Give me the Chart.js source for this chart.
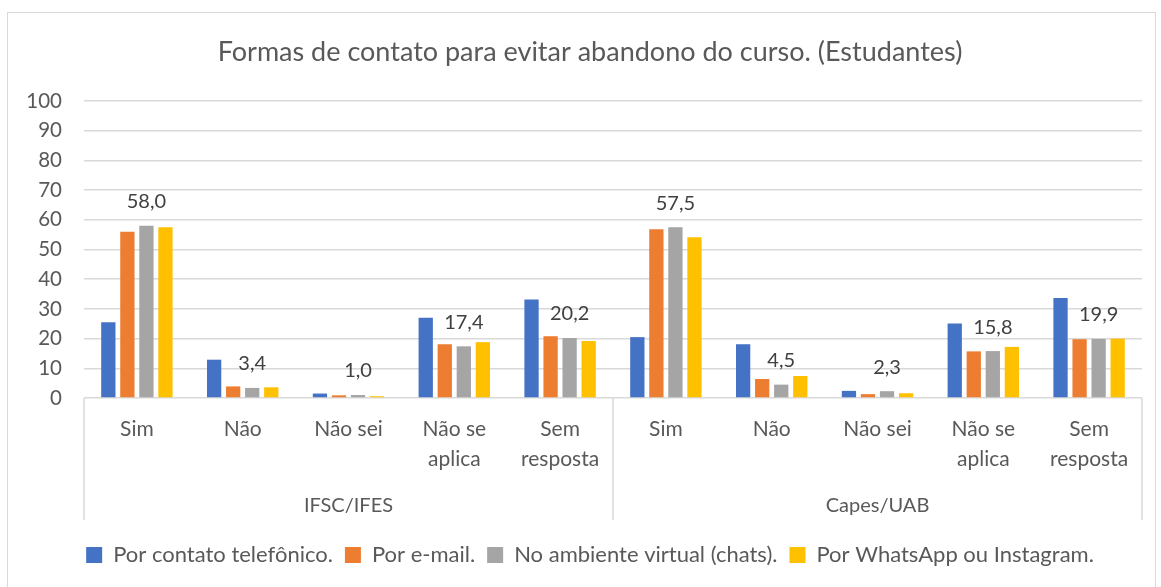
<!DOCTYPE html>
<html>
<head>
<meta charset="utf-8">
<script src="https://cdn.jsdelivr.net/npm/chart.js@4"></script>
<style>
  body { margin: 0; background: #fff; }
  #box { position: absolute; left: 7px; top: 12px; width: 1147px; height: 580px; border: 1px solid #d9d9d9; }
  #wrap { position: relative; width: 1147px; height: 574px; }
</style>
</head>
<body>
<div id="box"><div id="wrap"><canvas id="chart"></canvas></div></div>
<script>
// Données
const categories = [["Sim"], ["Não"], ["Não sei"], ["Não se", "aplica"], ["Sem", "resposta"],
                    ["Sim"], ["Não"], ["Não sei"], ["Não se", "aplica"], ["Sem", "resposta"]];
const groups = ["IFSC/IFES", "Capes/UAB"];
const telefone = [25.5, 12.9, 1.5, 27.0, 33.2, 20.5, 18.1, 2.4, 25.1, 33.7];
const email = [56.0, 3.9, 0.9, 18.1, 20.8, 56.8, 6.4, 1.3, 15.7, 19.8];
const ambiente = [58.0, 3.4, 1.0, 17.4, 20.2, 57.5, 4.5, 2.3, 15.8, 19.9];
const whatsapp = [57.5, 3.6, 0.6, 18.8, 19.2, 54.1, 7.4, 1.6, 17.2, 20.0];
const yTicks = [0, 10, 20, 30, 40, 50, 60, 70, 80, 90, 100];

const grey = '#595959';
const gridColor = '#d9d9d9';

// largeur du plus long libellé de l'axe y (pour l'alignement à droite)
const measure = document.createElement('canvas').getContext('2d');
measure.font = '20.5px Lato';
const widestTick = Math.max(...yTicks.map(v => measure.measureText(String(v)).width));

// étiquettes de la série grise
const labelPlugin = {
  id: 'valueLabels',
  afterDatasetsDraw(chart) {
    const ctx = chart.ctx;
    const meta = chart.getDatasetMeta(2);
    ctx.save();
    ctx.font = '20px Lato';
    ctx.fillStyle = '#404040';
    ctx.textAlign = 'center';
    ctx.textBaseline = 'middle';
    meta.data.forEach((bar, i) => {
      ctx.fillText(ambiente[i].toFixed(1).replace('.', ','), bar.x, bar.y - 24);
    });
    ctx.restore();
  }
};

// séparateurs de l'axe des catégories
const separators = {
  id: 'separators',
  afterDraw(chart) {
    const ctx = chart.ctx;
    const x = chart.scales.x;
    const top = chart.chartArea.bottom;
    const bottom = top + 122;
    ctx.save();
    ctx.strokeStyle = gridColor;
    ctx.lineWidth = 1.5;
    [x.left, (x.left + x.right) / 2, x.right].forEach(px => {
      ctx.beginPath();
      ctx.moveTo(px, top);
      ctx.lineTo(px, bottom);
      ctx.stroke();
    });
    ctx.restore();
  }
};

new Chart(document.getElementById("chart"), {
  type: 'bar',
  data: {
    labels: categories,
    datasets: [
      { label: 'Por contato telefônico.', data: telefone, backgroundColor: '#4472c4' },
      { label: 'Por e-mail.', data: email, backgroundColor: '#ed7d31' },
      { label: 'No ambiente virtual (chats).', data: ambiente, backgroundColor: '#a5a5a5' },
      { label: 'Por WhatsApp ou Instagram.', data: whatsapp, backgroundColor: '#ffc000' }
    ]
  },
  options: {
    responsive: true,
    maintainAspectRatio: false,
    animation: false,
    categoryPercentage: 0.72,
    barPercentage: 0.75,
    layout: { padding: { left: 30, right: 13, top: 0, bottom: 11 } },
    plugins: {
      title: {
        display: true,
        text: 'Formas de contato para evitar abandono do curso. (Estudantes)',
        color: grey,
        font: { family: 'Lato', size: 27, weight: 'normal' },
        padding: { top: 23, bottom: 32.6 }
      },
      legend: {
        position: 'bottom',
        labels: {
          color: grey,
          font: { family: 'Lato', size: 22 },
          boxWidth: 16,
          boxHeight: 16,
          padding: 12
        }
      },
      tooltip: { enabled: false }
    },
    scales: {
      x: {
        grid: { display: false },
        border: { display: false },
        ticks: {
          color: grey,
          font: { family: 'Lato', size: 21, lineHeight: 1.43 },
          padding: 8.5,
          maxRotation: 0,
          autoSkip: false
        },
        afterFit(scale) { scale.height = 80; }
      },
      x2: {
        type: 'category',
        labels: groups,
        position: 'bottom',
        offset: true,
        grid: { display: false },
        border: { display: false },
        ticks: {
          color: grey,
          font: { family: 'Lato', size: 20 },
          padding: 8
        },
        afterFit(scale) { scale.height = 54; }
      },
      y: {
        min: 0,
        max: 100,
        afterBuildTicks(scale) { scale.ticks = yTicks.map(v => ({ value: v })); },
        grid: { color: gridColor, lineWidth: 1.5, drawTicks: false },
        border: { display: false },
        ticks: {
          color: grey,
          font: { family: 'Lato', size: 20.5 },
          mirror: true,
          crossAlign: 'far',
          padding: -22 - widestTick
        },
        afterFit(scale) { scale.width = 46; }
      }
    }
  },
  plugins: [labelPlugin, separators]
});
</script>
</body>
</html>
